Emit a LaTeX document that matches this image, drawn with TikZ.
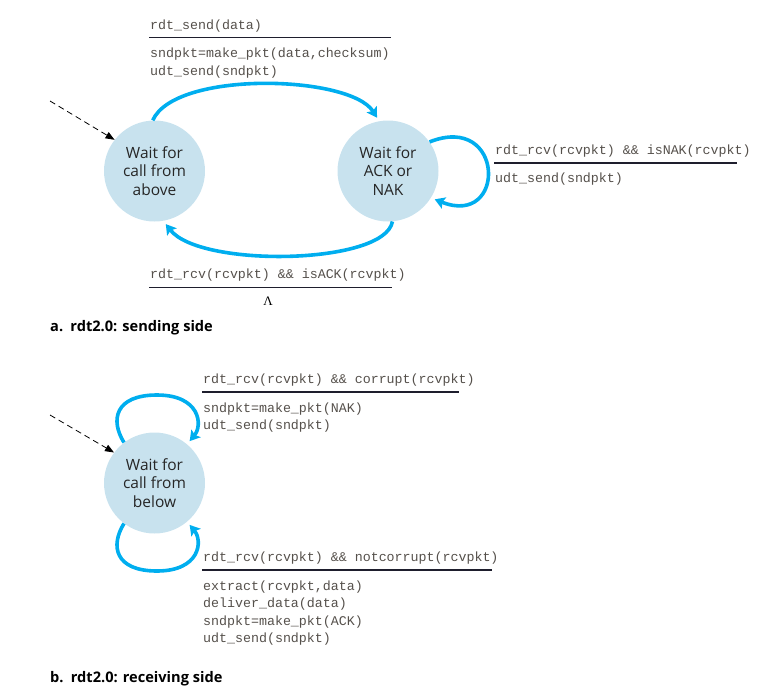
\documentclass[tikz,border=0pt]{standalone}
\usepackage{fontspec}
\setmainfont{Open Sans}
\setmonofont{Liberation Mono}
\newfontfamily\lamfont{Liberation Serif}
\usetikzlibrary{arrows.meta}
\definecolor{flowblue}{RGB}{0,174,239}
\definecolor{statefill}{RGB}{200,226,238}
\definecolor{codegray}{RGB}{85,80,75}
\definecolor{rulecol}{RGB}{30,30,45}
\begin{document}
\begin{tikzpicture}[x=1pt,y=-1pt,
 state/.style={circle,fill=statefill,minimum size=101pt,inner sep=0pt,align=center,font=\fontsize{15.5}{18.5}\selectfont,text=black!85},
 flow/.style={draw=flowblue,line width=3.6pt,-{Stealth[length=10pt,width=12pt,inset=2pt]},shorten >=4pt},
 init/.style={draw=black,dash pattern=on 6pt off 4pt,line width=0.8pt,-{Triangle[length=9pt,width=7pt]}},
 code/.style={anchor=base west,font=\fontsize{13.3}{16}\selectfont\ttfamily,text=codegray,inner sep=0pt},
 rule/.style={draw=rulecol,line width=1.2pt},
 capt/.style={anchor=base west,font=\fontsize{14.6}{17}\selectfont\bfseries,inner sep=0pt}]
\useasboundingbox (0,0) rectangle (763,691);

% ---- sending side ----
\node[state] (L) at (154.5,171) {Wait for\\call from\\above};
\node[state] (R) at (388,171) {Wait for\\ACK or\\NAK};
\coordinate (s1) at (50,101);
\draw[init] (s1) -- (L.142);

\draw[flow] (L.92) .. controls (175,70) and (350,75) .. (R.100);
\draw[flow] (R.-85) .. controls (385,265) and (200,268) .. (L.-80);
\draw[flow] (R.35) .. controls (505,112) and (507,228) .. (R.-32);

\node[code] (t1) at (150,29) {rdt\_send(data)};
\draw[rule] (149,37.5) -- (391,37.5);
\node[code] (t2) at (150,57) {sndpkt=make\_pkt(data,checksum)};
\node[code] (t3) at (150,75) {udt\_send(sndpkt)};

\node[code] (t4) at (495,154) {rdt\_rcv(rcvpkt) \&\& isNAK(rcvpkt)};
\draw[rule] (494,163) -- (737,163);
\node[code] (t5) at (495,182) {udt\_send(sndpkt)};

\node[code] (t6) at (150,278) {rdt\_rcv(rcvpkt) \&\& isACK(rcvpkt)};
\draw[rule] (149,287.5) -- (392,287.5);
\node[font=\fontsize{13}{15}\selectfont\lamfont,inner sep=0pt] (lam) at (268,301) {Λ};

\node[capt] (ca) at (50,331) {a.\enspace rdt2.0: sending side};

% ---- receiving side ----
\node[state] (B) at (154.5,483) {Wait for\\call from\\below};
\coordinate (s2) at (50,415);
\draw[init] (s2) -- (B.143);

\draw[flow] (B.127) .. controls (110,420) and (115,395) .. (157,395)
  .. controls (200,395) and (203,425) .. (B.50);
\draw[flow] (B.-127) .. controls (110,546) and (115,571) .. (157,571)
  .. controls (200,571) and (203,541) .. (B.-50);

\node[code] (u1) at (203,383) {rdt\_rcv(rcvpkt) \&\& corrupt(rcvpkt)};
\draw[rule] (202,392) -- (459,392);
\node[code] (u2) at (203,412) {sndpkt=make\_pkt(NAK)};
\node[code] (u3) at (203,429) {udt\_send(sndpkt)};

\node[code] (v1) at (203,561) {rdt\_rcv(rcvpkt) \&\& notcorrupt(rcvpkt)};
\draw[rule] (202,570) -- (492,570);
\node[code] (v2) at (203,590) {extract(rcvpkt,data)};
\node[code] (v3) at (203,607) {deliver\_data(data)};
\node[code] (v4) at (203,625) {sndpkt=make\_pkt(ACK)};
\node[code] (v5) at (203,642) {udt\_send(sndpkt)};

\node[capt] (cb) at (50,682) {b.\enspace rdt2.0: receiving side};
\end{tikzpicture}
\end{document}
